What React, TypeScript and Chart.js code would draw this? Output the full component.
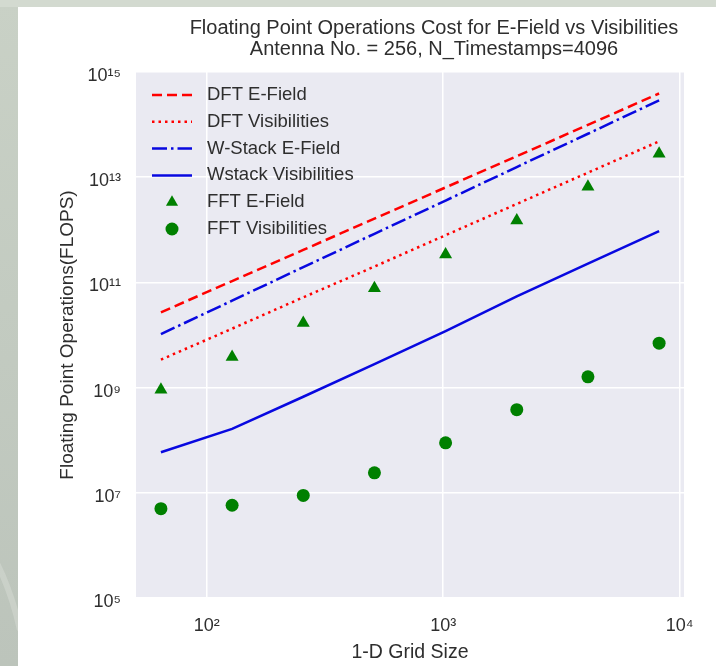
import React, { useEffect, useRef } from "react";
import { Chart, registerables } from "chart.js";
Chart.register(...registerables);

const gridSizes = [64, 128, 256, 512, 1024, 2048, 4096, 8192];
const dftEField = [2.7e10, 1.06e11, 4.15e11, 1.63e12, 6.4e12, 2.5e13, 9.9e13, 3.9e14];
const dftVisibilities = [3.4e9, 1.32e10, 5.2e10, 2.0e11, 7.9e11, 3.1e12, 1.22e13, 4.8e13];
const wstackEField = [1.04e10, 4.5e10, 1.95e11, 8.4e11, 3.6e12, 1.56e13, 6.7e13, 2.9e14];
const wstackVisibilities = [5.9e7, 1.64e8, 6.7e8, 2.8e9, 1.19e10, 5.4e10, 2.27e11, 9.4e11];
const fftEField = [9.1e8, 3.8e9, 1.7e10, 7.7e10, 3.4e11, 1.5e12, 6.6e12, 2.8e13];
const fftVisibilities = [5.0e6, 5.8e6, 8.9e6, 2.4e7, 8.9e7, 3.8e8, 1.6e9, 7.0e9];

const xTickValues = [1e2, 1e3, 1e4];
const xTickLabels = ["10²", "10³", "10⁴"];
const yTickValues = [1e5, 1e7, 1e9, 1e11, 1e13, 1e15];
const yTickLabels = ["10⁵", "10⁷", "10⁹", "10¹¹", "10¹³", "10¹⁵"];

const titleLines = [
  "Floating Point Operations Cost for E-Field vs Visibilities",
  "Antenna No. = 256, N_Timestamps=4096",
];
const xTitle = "1-D Grid Size";
const yTitle = "Floating Point Operations(FLOPS)";

const FONT = "'Liberation Sans', Arial, sans-serif";
const TEXT = "#2e2e2e";
const RED = "#ff0000";
const BLUE = "#0808e0";
const GREEN = "#008000";

const pts = (ys: number[]) => gridSizes.map((x, i) => ({ x, y: ys[i] }));

type LegendItem = { label: string; kind: "line" | "tri" | "circle"; color: string; dash?: number[] };
const legendItems: LegendItem[] = [
  { label: "DFT E-Field", kind: "line", color: RED, dash: [10, 5] },
  { label: "DFT Visibilities", kind: "line", color: RED, dash: [2.5, 4] },
  { label: "W-Stack E-Field", kind: "line", color: BLUE, dash: [15, 4, 2.5, 4] },
  { label: "Wstack Visibilities", kind: "line", color: BLUE, dash: [] },
  { label: "FFT E-Field", kind: "tri", color: GREEN },
  { label: "FFT Visibilities", kind: "circle", color: GREEN },
];

const decorPlugin = {
  id: "decor",
  beforeDraw(chart: any) {
    const { ctx, chartArea } = chart;
    ctx.save();
    ctx.fillStyle = "#ffffff";
    ctx.fillRect(0, 0, chart.width, chart.height);
    const g = ctx.createLinearGradient(0, 0, 0, chart.height);
    g.addColorStop(0, "#c9d1c6");
    g.addColorStop(1, "#bcc4bb");
    ctx.fillStyle = g;
    ctx.fillRect(0, 0, 18, chart.height);
    // faint swoosh in the background strip
    ctx.save();
    ctx.beginPath();
    ctx.rect(0, 0, 18, chart.height);
    ctx.clip();
    ctx.strokeStyle = "rgba(225,230,223,0.35)";
    ctx.lineWidth = 6;
    ctx.beginPath();
    ctx.moveTo(-10, 550);
    ctx.quadraticCurveTo(10, 585, 20, 630);
    ctx.stroke();
    ctx.restore();
    ctx.fillStyle = "#d3dad0";
    ctx.fillRect(0, 0, chart.width, 7);
    ctx.fillStyle = "#eaeaf2";
    ctx.fillRect(chartArea.left, chartArea.top, chartArea.right - chartArea.left, chartArea.bottom - chartArea.top);
    ctx.restore();
  },
  afterDraw(chart: any) {
    const { ctx, chartArea } = chart;
    ctx.save();
    // title
    ctx.fillStyle = TEXT;
    ctx.font = `20px ${FONT}`;
    ctx.textAlign = "center";
    ctx.textBaseline = "middle";
    const cx = (chartArea.left + chartArea.right) / 2 + 24;
    ctx.fillText(titleLines[0], cx, 28);
    ctx.fillText(titleLines[1], cx, 49);
    // legend
    const x0 = 152, x1 = 192, tx = 207;
    legendItems.forEach((it, i) => {
      const y = 95 + i * 26.8;
      ctx.strokeStyle = it.color;
      ctx.fillStyle = it.color;
      if (it.kind === "line") {
        ctx.lineWidth = 2.5;
        ctx.setLineDash(it.dash || []);
        ctx.beginPath();
        ctx.moveTo(x0, y);
        ctx.lineTo(x1, y);
        ctx.stroke();
        ctx.setLineDash([]);
      } else if (it.kind === "tri") {
        const r = 7;
        ctx.beginPath();
        ctx.moveTo(172, y - r);
        ctx.lineTo(172 + r * 0.866, y + r * 0.5);
        ctx.lineTo(172 - r * 0.866, y + r * 0.5);
        ctx.closePath();
        ctx.fill();
      } else {
        ctx.beginPath();
        ctx.arc(172, y, 6.5, 0, Math.PI * 2);
        ctx.fill();
      }
      ctx.fillStyle = TEXT;
      ctx.font = `18.5px ${FONT}`;
      ctx.textAlign = "left";
      ctx.textBaseline = "middle";
      ctx.fillText(it.label, tx, y);
    });
    ctx.restore();
  },
};

export default function App() {
  const ref = useRef<HTMLCanvasElement | null>(null);
  useEffect(() => {
    if (!ref.current) return;
    const lineDs = (label: string, data: number[], color: string, dash: number[]) => ({
      label,
      data: pts(data),
      showLine: true,
      borderColor: color,
      backgroundColor: color,
      borderWidth: 2.5,
      borderDash: dash,
      pointRadius: 0,
      pointHoverRadius: 0,
      tension: 0,
      fill: false,
    });
    const chart = new Chart(ref.current, {
      type: "scatter",
      data: {
        datasets: [
          lineDs("DFT E-Field", dftEField, RED, [10, 5]),
          lineDs("DFT Visibilities", dftVisibilities, RED, [2.5, 4]),
          lineDs("W-Stack E-Field", wstackEField, BLUE, [15, 4, 2.5, 4]),
          lineDs("Wstack Visibilities", wstackVisibilities, BLUE, []),
          {
            label: "FFT E-Field",
            data: pts(fftEField),
            showLine: false,
            pointStyle: "triangle",
            pointRadius: 7.5,
            backgroundColor: GREEN,
            borderColor: GREEN,
            borderWidth: 0,
          },
          {
            label: "FFT Visibilities",
            data: pts(fftVisibilities),
            showLine: false,
            pointStyle: "circle",
            pointRadius: 6.5,
            backgroundColor: GREEN,
            borderColor: GREEN,
            borderWidth: 0,
          },
        ],
      },
      options: {
        responsive: false,
        animation: false,
        devicePixelRatio: 1,
        layout: { padding: { top: 72, right: 32, left: 0, bottom: 0 } },
        plugins: {
          legend: { display: false },
          title: { display: false },
          tooltip: { enabled: false },
        },
        scales: {
          x: {
            type: "logarithmic",
            min: 50.2,
            max: 10440,
            afterBuildTicks: (s: any) => {
              s.ticks = xTickValues.map((v) => ({ value: v }));
            },
            afterFit: (s: any) => {
              s.height = 68;
            },
            ticks: {
              autoSkip: false,
              maxRotation: 0,
              padding: 17,
              color: TEXT,
              font: { family: FONT, size: 18 },
              callback: (v: any) => {
                const i = xTickValues.indexOf(Number(v));
                return i >= 0 ? xTickLabels[i] : "";
              },
            },
            grid: { color: "#ffffff", lineWidth: 1.5, drawTicks: false },
            border: { display: false },
            title: {
              display: true,
              text: xTitle,
              color: TEXT,
              font: { family: FONT, size: 19.5 },
              padding: { top: 0, bottom: 2 },
            },
          },
          y: {
            type: "logarithmic",
            min: 1e5,
            max: 1e15,
            afterBuildTicks: (s: any) => {
              s.ticks = yTickValues.map((v) => ({ value: v }));
            },
            afterFit: (s: any) => {
              s.width = 136;
            },
            ticks: {
              autoSkip: false,
              padding: 15,
              labelOffset: 4,
              color: TEXT,
              font: { family: FONT, size: 18 },
              callback: (v: any) => {
                const i = yTickValues.indexOf(Number(v));
                return i >= 0 ? yTickLabels[i] : "";
              },
            },
            grid: { color: "#ffffff", lineWidth: 1.5, drawTicks: false },
            border: { display: false },
            title: {
              display: true,
              text: yTitle,
              color: TEXT,
              font: { family: FONT, size: 19 },
              padding: { top: 56, bottom: 0 },
            },
          },
        },
      },
      plugins: [decorPlugin],
    } as any);
    return () => chart.destroy();
  }, []);
  return (
    <div style={{ position: "absolute", left: 0, top: 0, width: 716, height: 666 }}>
      <canvas ref={ref} width={716} height={666} style={{ display: "block" }} />
    </div>
  );
}
